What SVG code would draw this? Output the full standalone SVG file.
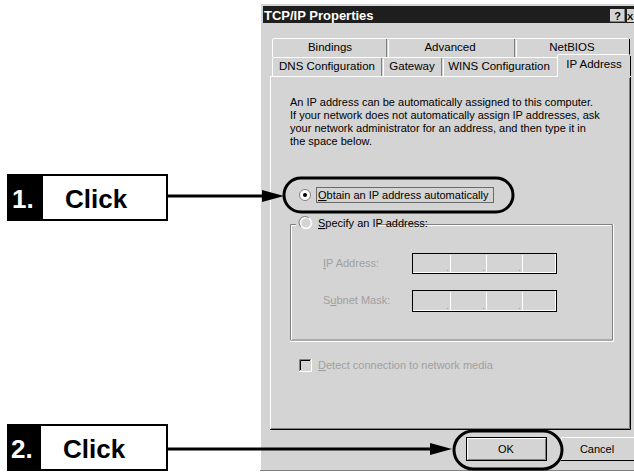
<svg xmlns="http://www.w3.org/2000/svg" width="634" height="472" viewBox="0 0 634 472">
<style>
.ui{font-family:"Liberation Sans",Arial,sans-serif;font-size:11px;fill:#000}
.dis{font-family:"Liberation Sans",Arial,sans-serif;font-size:11px;fill:#a0a0a0}
.tab{font-family:"Liberation Sans",Arial,sans-serif;font-size:11.5px;fill:#000;text-anchor:middle}
.lbl{font-family:"Liberation Sans",Arial,sans-serif;font-weight:bold;font-size:26px}
.hl{stroke:#fff;stroke-width:1;fill:none}
.sh{stroke:#808080;stroke-width:1;fill:none}
.dk{stroke:#000;stroke-width:1;fill:none}
.oval{fill:none;stroke:#000;stroke-width:3}
.conn{stroke:#000;stroke-width:3;fill:none}
</style>
<rect width="634" height="472" fill="#fff"/>
<g id="dialog">
  <rect x="260" y="3" width="374" height="468" fill="#d4d4d4"/>
  <path class="hl" d="M260.5 471V3.5H634"/>
  <path class="sh" d="M260 470.5H634"/>
  <rect x="263" y="6" width="371" height="17" fill="#1e1e1e"/>
  <text x="264" y="19.5" font-family="Liberation Sans,Arial,sans-serif" font-weight="bold" font-size="13" fill="#fff">TCP/IP Properties</text>
  <rect x="610" y="9" width="15" height="13" fill="#d4d4d4"/>
  <path class="sh" d="M610 21.5H625M624.5 9V22"/>
  <text x="617.5" y="20" font-family="Liberation Sans,Arial,sans-serif" font-weight="bold" font-size="11" text-anchor="middle">?</text>
  <rect x="627" y="9" width="10" height="13" fill="#d4d4d4"/>
  <text x="627" y="20" font-family="Liberation Sans,Arial,sans-serif" font-weight="bold" font-size="9.5">X</text>
</g>
<g id="tabs">
  <path d="M272 57V40q0-2 2-2H628q2 0 2 2V57Z" fill="#d4d4d4"/>
  <path class="hl" d="M272.5 57V40q0-1.5 1.5-1.5H628"/>
  <path class="dk" d="M629.5 39V57"/>
  <path class="sh" d="M386.5 39V57M514.5 39V57"/>
  <path class="hl" d="M388.5 40V57M516.5 40V57"/>
  <text class="tab" x="330" y="51">Bindings</text>
  <text class="tab" x="450" y="51">Advanced</text>
  <text class="tab" x="572" y="51">NetBIOS</text>
  <path d="M272 76V59q0-2 2-2H558V76Z" fill="#d4d4d4"/>
  <path class="hl" d="M272.5 76V59q0-1.5 1.5-1.5H557"/>
  <path class="sh" d="M381.5 58V76M441.5 58V76"/>
  <path class="hl" d="M383.5 59V76M443.5 59V76"/>
  <text class="tab" x="327" y="70">DNS Configuration</text>
  <text class="tab" x="412" y="70">Gateway</text>
  <text class="tab" x="499" y="70">WINS Configuration</text>
  <path d="M557 77V56q0-2 2-2H629q1 0 1 2V77Z" fill="#d4d4d4"/>
  <path class="hl" d="M557.5 77V56q0-1.5 1.5-1.5H628"/>
  <path class="dk" d="M630.5 56V77"/>
  <text class="tab" x="594" y="68">IP Address</text>
</g>
<g id="panel">
  <path class="hl" d="M270.5 429V76.5H557M630 76.5H631"/>
  <path class="dk" d="M630.5 77V429.5H270"/>
  <path class="sh" d="M629.5 78V428.5H271"/>
  <text class="ui" x="290" y="106">An IP address can be automatically assigned to this computer.</text>
  <text class="ui" x="290" y="119">If your network does not automatically assign IP addresses, ask</text>
  <text class="ui" x="290" y="132">your network administrator for an address, and then type it in</text>
  <text class="ui" x="290" y="145">the space below.</text>
</g>
<g id="obtain">
  <circle cx="305" cy="195" r="5.5" fill="#fff" stroke="#808080"/>
  <circle cx="305" cy="195" r="2" fill="#000"/>
  <rect x="316.5" y="187.5" width="177" height="15" fill="none" stroke="#000" stroke-dasharray="1 1"/>
  <text class="ui" x="318" y="199"><tspan text-decoration="underline">O</tspan>btain an IP address automatically</text>
</g>
<g id="specify">
  <path class="sh" d="M290.5 340V224.5H296M316 224.5H612.5V340H290.5"/>
  <path class="hl" d="M291.5 340V225.5H296M316 225.5H611.5M613.5 224V341.5H290"/>
  <circle cx="306" cy="223" r="5.5" fill="#d4d4d4" stroke="#fff" stroke-width="1.5"/>
  <path d="M301 227A6 6 0 0 1 309 218" fill="none" stroke="#808080"/>
  <rect x="316" y="216" width="62" height="13" fill="#d4d4d4"/>
  <text class="ui" x="318" y="227"><tspan text-decoration="underline">S</tspan>pecify an IP address:</text>
  <text class="dis" x="323" y="267"><tspan text-decoration="underline">I</tspan>P Address:</text>
  <rect x="412.5" y="253.5" width="144" height="20" fill="#d4d4d4" stroke="#000"/>
  <path class="hl" d="M413 272.5H556M555.5 254V273M450.5 255V272M486.5 255V272M522.5 255V272"/>
  <text class="dis" x="446" y="271">.</text><text class="dis" x="482" y="271">.</text><text class="dis" x="518" y="271">.</text>
  <text class="dis" x="323" y="304">S<tspan text-decoration="underline">u</tspan>bnet Mask:</text>
  <rect x="412.5" y="290.5" width="144" height="21" fill="#d4d4d4" stroke="#000"/>
  <path class="hl" d="M413 310.5H556M555.5 291V311M450.5 292V310M486.5 292V310M522.5 292V310"/>
  <text class="dis" x="446" y="309">.</text><text class="dis" x="482" y="309">.</text><text class="dis" x="518" y="309">.</text>
</g>
<g id="detect">
  <rect x="299.5" y="359.5" width="12" height="12" fill="#d4d4d4" stroke="#fff"/>
  <path class="sh" d="M299.5 371V359.5H311"/>
  <path class="dk" d="M300.5 370V360.5H310"/>
  <text class="dis" x="318" y="369"><tspan text-decoration="underline">D</tspan>etect connection to network media</text>
</g>
<g id="ok">
  <rect x="466.5" y="437.5" width="80" height="23" fill="#d4d4d4" stroke="#000"/>
  <path class="hl" d="M467.5 459V438.5H545"/>
  <path class="sh" d="M545.5 439V459.5H468"/>
  <text class="ui" x="506" y="453" text-anchor="middle">OK</text>
</g>
<g id="cancel">
  <rect x="561" y="437" width="73" height="24" fill="#d4d4d4"/>
  <path class="hl" d="M561.5 460V437.5H634"/>
  <path class="dk" d="M561 460.5H634"/>
  <text class="ui" x="597" y="453" text-anchor="middle">Cancel</text>
</g>
<g id="highlights">
  <rect x="284" y="178" width="229" height="34" rx="17" class="oval"/>
  <rect x="454" y="431" width="108" height="38" rx="19" class="oval"/>
</g>
<g id="step1">
  <rect x="8" y="175" width="159" height="45" fill="#fff" stroke="#000" stroke-width="2"/>
  <rect x="8" y="175" width="35" height="45" fill="#000"/>
  <text class="lbl" x="12" y="208" fill="#fff" font-size="24">1.</text>
  <text class="lbl" x="65" y="208" fill="#000">Click</text>
</g>
<g id="step2">
  <rect x="8" y="425" width="159" height="45" fill="#fff" stroke="#000" stroke-width="2"/>
  <rect x="8" y="425" width="33" height="45" fill="#000"/>
  <text class="lbl" x="11" y="458" fill="#fff" font-size="24">2.</text>
  <text class="lbl" x="63" y="458" fill="#000">Click</text>
</g>
<g id="connectors">
  <path class="conn" d="M167 196H266"/>
  <polygon points="284,196 262,190 262,202" fill="#000"/>
  <path class="conn" d="M167 449H434"/>
  <polygon points="452,449 430,443 430,455" fill="#000"/>
</g>
</svg>
